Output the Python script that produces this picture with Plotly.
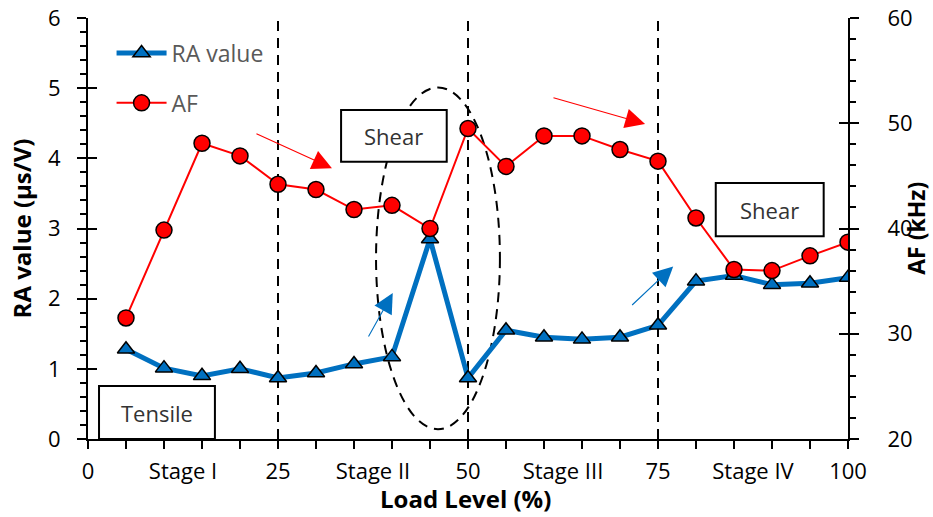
import plotly.graph_objects as go

load = [5, 10, 15, 20, 25, 30, 35, 40, 45, 50, 55, 60, 65, 70, 75, 80, 85, 90, 95, 100]
ra_value = [1.28, 1.01, 0.90, 1.00, 0.87, 0.94, 1.07, 1.17, 2.85, 0.87,
            1.55, 1.45, 1.42, 1.45, 1.62, 2.25, 2.33, 2.20, 2.22, 2.30]
af_khz = [31.5, 39.85, 48.1, 46.9, 44.2, 43.7, 41.8, 42.2, 40.0, 49.5,
          45.9, 48.8, 48.8, 47.5, 46.4, 41.0, 36.1, 36.0, 37.4, 38.7]
x_tickvals = [0, 12.5, 25, 37.5, 50, 62.5, 75, 87.5, 100]
x_ticktext = ["0", "Stage I", "25", "Stage II", "50", "Stage III", "75", "Stage IV", "100"]
stage_bounds = [25, 50, 75]

FONT = "Open Sans"
fig = go.Figure()

fig.add_trace(go.Scatter(
    x=load, y=ra_value, name="RA value", mode="lines+markers",
    line=dict(color="#0070C0", width=5),
    marker=dict(symbol="triangle-up", size=15, color="#0070C0",
                line=dict(color="black", width=1.5)),
    legendgroup="a", yaxis="y"))
fig.add_trace(go.Scatter(
    x=load, y=af_khz, name="AF", mode="lines+markers",
    line=dict(color="#FF0000", width=2),
    marker=dict(symbol="circle", size=16, color="#FF0000",
                line=dict(color="black", width=1.5)),
    legendgroup="b", yaxis="y2"))
# dummy traces to carry the inside halves of the crossing major ticks
fig.add_trace(go.Scatter(x=[None], y=[None], yaxis="y3", showlegend=False, hoverinfo="skip"))
fig.add_trace(go.Scatter(x=[None], y=[None], yaxis="y4", showlegend=False, hoverinfo="skip"))

DASH = "10px,7px"
# stage boundaries
for xb in stage_bounds:
    fig.add_shape(type="line", x0=xb, x1=xb, y0=0, y1=6, xref="x", yref="y",
                  line=dict(color="black", width=2, dash=DASH), layer="below")

# dashed ellipse
fig.add_shape(type="circle", x0=37.9, x1=54.2, y0=0.14, y1=5.01, xref="x", yref="y",
              line=dict(color="black", width=2, dash=DASH), layer="below")

# text boxes
boxes = [("Shear", 33.3, 47.2, 3.95, 4.69),
         ("Shear", 82.6, 96.8, 2.89, 3.65),
         ("Tensile", 1.45, 16.7, 0.0, 0.755)]
for txt, x0, x1, y0, y1 in boxes:
    fig.add_shape(type="rect", x0=x0, x1=x1, y0=y0, y1=y1, xref="x", yref="y",
                  line=dict(color="black", width=2), fillcolor="white", layer="below")
    fig.add_annotation(x=(x0 + x1) / 2, y=(y0 + y1) / 2, xref="x", yref="y",
                       text=txt, showarrow=False,
                       font=dict(family=FONT, size=22, color="#333333"))

# arrows
arrows = [((21.97, 4.36), (32.1, 3.86), "#FF0000"),
          ((61.05, 4.87), (73.3, 4.49), "#FF0000"),
          ((36.8, 1.44), (40.1, 2.08), "#0070C0"),
          ((71.4, 1.89), (77.0, 2.46), "#0070C0")]
for (sx, sy), (tx, ty), c in arrows:
    fig.add_annotation(x=tx, y=ty, ax=sx, ay=sy, xref="x", yref="y",
                       axref="x", ayref="y", text="", showarrow=True,
                       arrowhead=2, arrowsize=3.6, arrowwidth=1.1, arrowcolor=c)

axis_font = dict(family=FONT, size=24, color="black")
tick_font = dict(family=FONT, size=22, color="black")

# right axis title and x axis title as positioned text
fig.add_annotation(x=1.0885, y=0.5, xref="paper", yref="paper", text="<b>AF (kHz)</b>",
                   textangle=-90, showarrow=False, font=dict(family=FONT, size=23, color="black"),
                   xanchor="center", yanchor="middle")
fig.add_annotation(x=0.497, y=-0.142, xref="paper", yref="paper", text="<b>Load Level (%)</b>",
                   showarrow=False, font=dict(family=FONT, size=24, color="black"),
                   xanchor="center", yanchor="middle")

fig.update_layout(
    width=933, height=517,
    margin=dict(l=88, r=85, t=18, b=78, autoexpand=False),
    plot_bgcolor="white", paper_bgcolor="white",
    font=dict(family=FONT, size=20, color="black"),
    showlegend=True,
    legend=dict(x=0.031, y=0.968, xanchor="left", yanchor="top",
                bgcolor="rgba(0,0,0,0)", font=dict(family=FONT, size=23, color="#595959"),
                traceorder="grouped", tracegroupgap=17, itemwidth=50),
    xaxis=dict(range=[0, 100], tickvals=x_tickvals, ticktext=x_ticktext,
               ticks="outside", ticklen=8, tickcolor="rgba(0,0,0,0)",
               ticklabelstandoff=4, automargin=False,
               minor=dict(dtick=5, tick0=0, ticks="outside", ticklen=8,
                          tickcolor="black", tickwidth=2),
               showline=True, linecolor="black", linewidth=2, showgrid=False,
               zeroline=False, tickfont=tick_font),
    yaxis=dict(range=[0, 6], dtick=1, ticks="outside", ticklen=9, tickwidth=2,
               tickcolor="black", ticklabelstandoff=12, automargin=False,
               minor=dict(dtick=0.2, ticks="outside", ticklen=6, tickwidth=2,
                          tickcolor="black"),
               showline=True, linecolor="black", linewidth=2, showgrid=False,
               zeroline=False, tickfont=tick_font,
               title=dict(text="<b>RA value (µs/V)</b>", font=axis_font, standoff=10)),
    yaxis2=dict(range=[20, 60], dtick=10, overlaying="y", side="right",
                ticks="outside", ticklen=9, tickwidth=2, tickcolor="black",
                ticklabelstandoff=24, automargin=False,
                minor=dict(dtick=2, ticks="outside", ticklen=6, tickwidth=2,
                           tickcolor="black"),
                showline=True, linecolor="black", linewidth=2, showgrid=False,
                zeroline=False, tickfont=tick_font),
    yaxis3=dict(range=[0, 6], dtick=1, overlaying="y", side="left",
                ticks="inside", ticklen=9, tickwidth=2, tickcolor="black",
                showticklabels=False, showline=False, showgrid=False,
                zeroline=False, automargin=False),
    yaxis4=dict(range=[20, 60], dtick=10, overlaying="y", side="right",
                ticks="inside", ticklen=9, tickwidth=2, tickcolor="black",
                showticklabels=False, showline=False, showgrid=False,
                zeroline=False, automargin=False),
)

fig.write_html("out.html", config={"displayModeBar": False},
               post_script="document.body.style.margin='0';")
